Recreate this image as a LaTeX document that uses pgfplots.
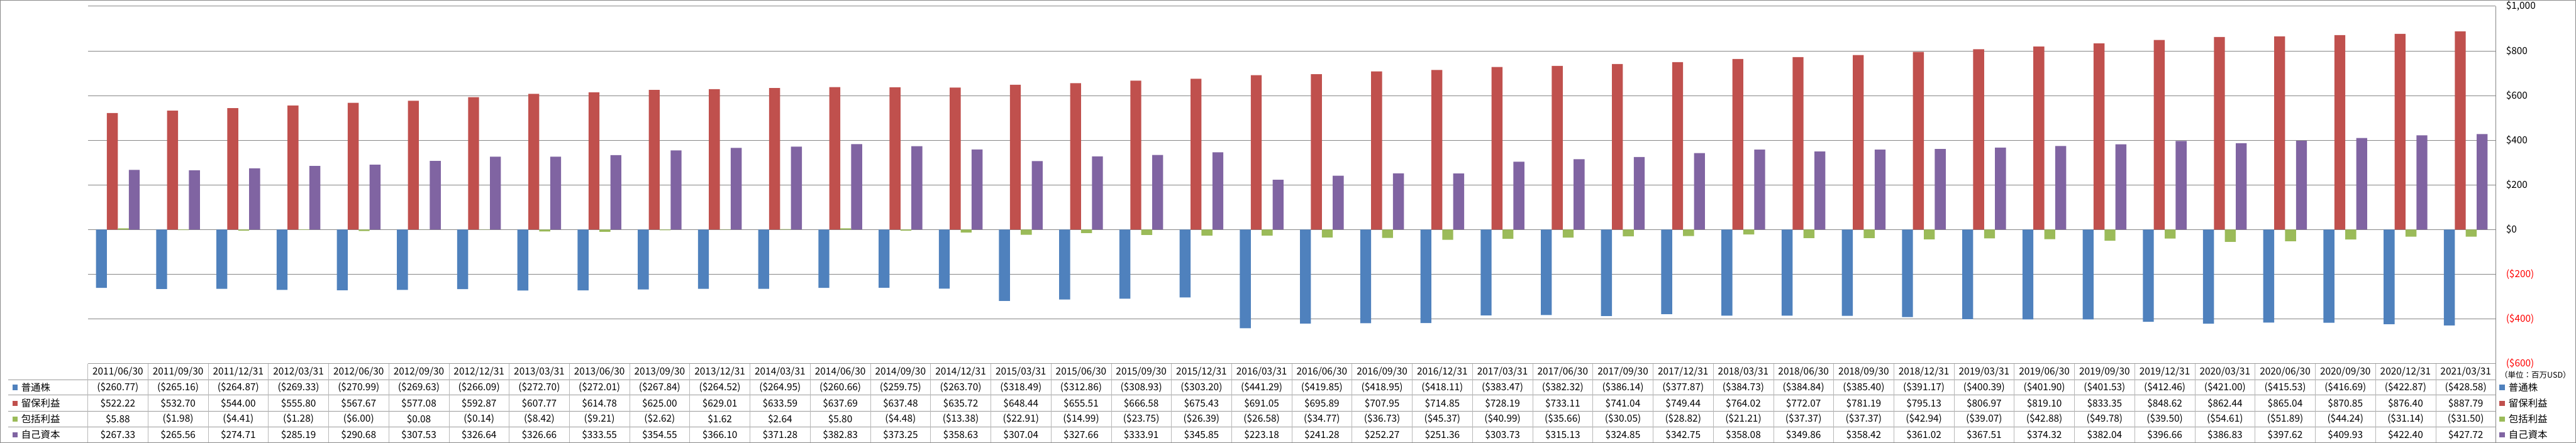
\documentclass[border=0pt]{standalone}
\usepackage{fontspec}
\setmainfont{Noto Sans CJK JP}
\usepackage{pgfplots}
\usepackage{pgfplotstable}
\pgfplotsset{compat=1.18}
\pgfkeys{/pgf/number format/assume math mode=true}
\definecolor{cBlue}{HTML}{4F81BD}
\definecolor{cRed}{HTML}{C0504D}
\definecolor{cGreen}{HTML}{9BBB59}
\definecolor{cPurple}{HTML}{8064A2}
\definecolor{gridc}{HTML}{868686}
\definecolor{tabc}{HTML}{9A9A9A}
\definecolor{framec}{HTML}{888888}

\pgfplotstableread{
x date cs re ci eq
0 2011/06/30 -260.77 522.22 5.88 267.33
1 2011/09/30 -265.16 532.70 -1.98 265.56
2 2011/12/31 -264.87 544.00 -4.41 274.71
3 2012/03/31 -269.33 555.80 -1.28 285.19
4 2012/06/30 -270.99 567.67 -6.00 290.68
5 2012/09/30 -269.63 577.08 0.08 307.53
6 2012/12/31 -266.09 592.87 -0.14 326.64
7 2013/03/31 -272.70 607.77 -8.42 326.66
8 2013/06/30 -272.01 614.78 -9.21 333.55
9 2013/09/30 -267.84 625.00 -2.62 354.55
10 2013/12/31 -264.52 629.01 1.62 366.10
11 2014/03/31 -264.95 633.59 2.64 371.28
12 2014/06/30 -260.66 637.69 5.80 382.83
13 2014/09/30 -259.75 637.48 -4.48 373.25
14 2014/12/31 -263.70 635.72 -13.38 358.63
15 2015/03/31 -318.49 648.44 -22.91 307.04
16 2015/06/30 -312.86 655.51 -14.99 327.66
17 2015/09/30 -308.93 666.58 -23.75 333.91
18 2015/12/31 -303.20 675.43 -26.39 345.85
19 2016/03/31 -441.29 691.05 -26.58 223.18
20 2016/06/30 -419.85 695.89 -34.77 241.28
21 2016/09/30 -418.95 707.95 -36.73 252.27
22 2016/12/31 -418.11 714.85 -45.37 251.36
23 2017/03/31 -383.47 728.19 -40.99 303.73
24 2017/06/30 -382.32 733.11 -35.66 315.13
25 2017/09/30 -386.14 741.04 -30.05 324.85
26 2017/12/31 -377.87 749.44 -28.82 342.75
27 2018/03/31 -384.73 764.02 -21.21 358.08
28 2018/06/30 -384.84 772.07 -37.37 349.86
29 2018/09/30 -385.40 781.19 -37.37 358.42
30 2018/12/31 -391.17 795.13 -42.94 361.02
31 2019/03/31 -400.39 806.97 -39.07 367.51
32 2019/06/30 -401.90 819.10 -42.88 374.32
33 2019/09/30 -401.53 833.35 -49.78 382.04
34 2019/12/31 -412.46 848.62 -39.50 396.66
35 2020/03/31 -421.00 862.44 -54.61 386.83
36 2020/06/30 -415.53 865.04 -51.89 397.62
37 2020/09/30 -416.69 870.85 -44.24 409.93
38 2020/12/31 -422.87 876.40 -31.14 422.40
39 2021/03/31 -428.58 887.79 -31.50 427.72
}\data

\newcommand\tabfont{\fontsize{8}{9.6}\selectfont}
\newcommand\fmtval[1]{%
  \pgfmathtruncatemacro\isneg{(#1<0)?1:0}%
  \ifnum\isneg=1
    \pgfmathparse{abs(#1)}%
    (\$\pgfmathprintnumber[fixed,fixed zerofill,precision=2,1000 sep={}]{\pgfmathresult})%
  \else
    \$\pgfmathprintnumber[fixed,fixed zerofill,precision=2,1000 sep={}]{#1}%
  \fi}

\begin{document}
\begin{tikzpicture}[x=1mm,y=1mm]
\path[use as bounding box] (0,0) rectangle (747.2,128.6);
\begin{axis}[
  at={(25.45mm,23.0mm)}, anchor=south west,
  scale only axis, width=698.5mm, height=103.8mm,
  xmin=-0.5, xmax=39.5, ymin=-600, ymax=1000,
  ybar=0pt, bar width=3.17mm,
  xtick=\empty,
  ytick={-600,-400,-200,0,200,400,600,800,1000},
  yticklabels={{\color{red}(\$600)},{\color{red}(\$400)},{\color{red}(\$200)},{\$0},{\$200},{\$400},{\$600},{\$800},{\$1,000}},
  ytick pos=right, yticklabel pos=right,
  major tick length=0pt,
  ymajorgrids, grid style={gridc, line width=0.4pt},
  axis line style={draw=none},
  yticklabel style={anchor=west, inner sep=0pt, xshift=2.9mm, font=\tabfont},
  clip=false,
]
\addplot[fill=cBlue, draw=none] table[x=x,y=cs]{\data};
\addplot[fill=cRed, draw=none] table[x=x,y=re]{\data};
\addplot[fill=cGreen, draw=none] table[x=x,y=ci]{\data};
\addplot[fill=cPurple, draw=none] table[x=x,y=eq]{\data};
\end{axis}
% right axis line
\draw[gridc, line width=0.4pt] (723.95,0.17) -- (723.95,126.8);
% table horizontal lines
\draw[tabc, line width=0.5pt] (25.45,23.03) -- (723.95,23.03);
\foreach \yy in {18.37,13.87,9.23,4.67} {
  \draw[tabc, line width=0.5pt] (2.4,\yy) -- (723.95,\yy);
}
% table vertical lines
\foreach \k in {0,...,39} {
  \draw[tabc!70, line width=0.3pt] ({25.45+\k*17.4625},0.17) -- ({25.45+\k*17.4625},23.03);
}
% table contents
\foreach \i in {0,...,39} {
  \pgfmathsetmacro\xc{25.45+(\i+0.5)*17.4625}
  \pgfplotstablegetelem{\i}{date}\of\data \let\vd\pgfplotsretval
  \pgfplotstablegetelem{\i}{cs}\of\data \let\va\pgfplotsretval
  \pgfplotstablegetelem{\i}{re}\of\data \let\vb\pgfplotsretval
  \pgfplotstablegetelem{\i}{ci}\of\data \let\vc\pgfplotsretval
  \pgfplotstablegetelem{\i}{eq}\of\data \let\ve\pgfplotsretval
  \node[font=\tabfont, inner sep=0pt] at (\xc,20.7) {\vd};
  \node[font=\tabfont, inner sep=0pt] at (\xc,16.12) {\fmtval{\va}};
  \node[font=\tabfont, inner sep=0pt] at (\xc,11.55) {\fmtval{\vb}};
  \node[font=\tabfont, inner sep=0pt] at (\xc,6.95) {\fmtval{\vc}};
  \node[font=\tabfont, inner sep=0pt] at (\xc,2.42) {\fmtval{\ve}};
}
% legends left and right
\foreach \c/\n/\yy in {cBlue/普通株/16.12, cRed/留保利益/11.55, cGreen/包括利益/6.95, cPurple/自己資本/2.42} {
  \fill[\c] (3.6,\yy-0.75) rectangle (5.1,\yy+0.75);
  \node[font=\tabfont, anchor=west, inner sep=0pt] at (6.1,\yy) {\n};
  \fill[\c] (724.9,\yy-0.75) rectangle (726.6,\yy+0.75);
  \node[font=\tabfont, anchor=west, inner sep=0pt] at (727.6,\yy) {\n};
}
\node[font=\fontsize{6.5}{7.8}\selectfont, inner sep=0pt] at (735.4,19.7) {（単位：百万USD）};
% outer frame
\draw[framec, line width=0.25mm] (0.125,0.125) rectangle (747.075,128.475);
\end{tikzpicture}
\end{document}
